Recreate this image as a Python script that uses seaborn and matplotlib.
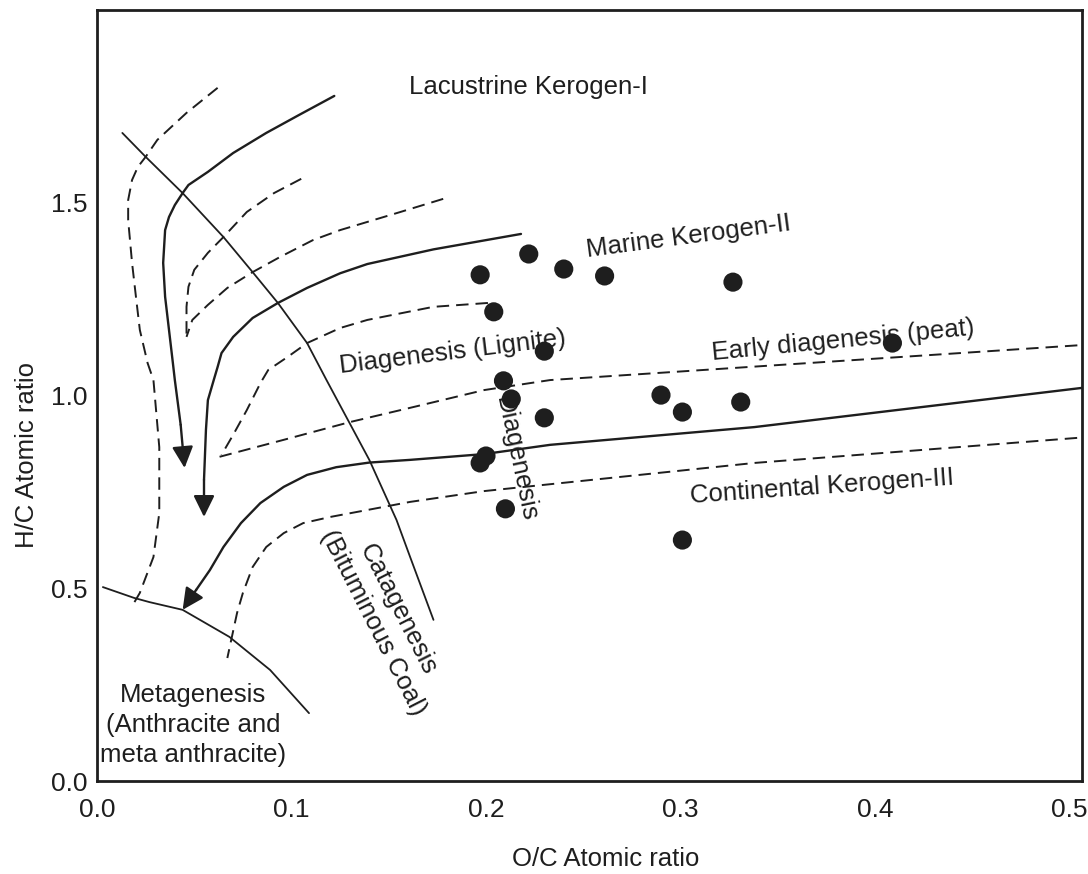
import matplotlib
matplotlib.use("Agg")
import matplotlib.pyplot as plt
import seaborn as sns

# ---- sample points (O/C, H/C atomic ratios) ----
oc_ratio = [0.197, 0.222, 0.240, 0.261, 0.327, 0.204, 0.230, 0.409, 0.209,
            0.213, 0.290, 0.301, 0.331, 0.230, 0.200, 0.197, 0.210, 0.301]
hc_ratio = [1.313, 1.367, 1.328, 1.310, 1.294, 1.217, 1.115, 1.136, 1.038,
            0.991, 1.001, 0.957, 0.983, 0.942, 0.843, 0.825, 0.706, 0.625]

# ---- maturation zone boundaries ----
cat_x = [0.013, 0.025, 0.044, 0.065, 0.080, 0.093, 0.108, 0.118, 0.140, 0.154, 0.161, 0.173]
cat_y = [1.681, 1.619, 1.525, 1.411, 1.320, 1.240, 1.136, 1.040, 0.833, 0.677, 0.581, 0.418]

meta_x = [0.003, 0.019, 0.027, 0.044, 0.068, 0.089, 0.109]
meta_y = [0.503, 0.475, 0.464, 0.444, 0.374, 0.288, 0.176]

# ---- kerogen evolution paths (solid, arrowhead at the last point) ----
k1_x = [0.122, 0.104, 0.087, 0.070, 0.057, 0.047, 0.044, 0.040, 0.037, 0.035,
        0.034, 0.035, 0.037, 0.039, 0.040, 0.043, 0.045]
k1_y = [1.777, 1.728, 1.681, 1.629, 1.580, 1.546, 1.525, 1.494, 1.463, 1.429,
        1.344, 1.256, 1.170, 1.084, 1.040, 0.924, 0.812]

k2_x = [0.218, 0.173, 0.139, 0.125, 0.108, 0.093, 0.080, 0.070, 0.064, 0.062,
        0.060, 0.057, 0.056, 0.055, 0.055]
k2_y = [1.419, 1.379, 1.341, 1.317, 1.279, 1.240, 1.201, 1.152, 1.110, 1.074,
        1.040, 0.988, 0.911, 0.781, 0.685]

k3_x = [0.507, 0.338, 0.233, 0.199, 0.161, 0.140, 0.123, 0.108, 0.096, 0.084,
        0.074, 0.065, 0.058, 0.051, 0.044]
k3_y = [1.020, 0.918, 0.872, 0.848, 0.833, 0.826, 0.814, 0.794, 0.763, 0.721,
        0.669, 0.607, 0.547, 0.496, 0.444]

# ---- dashed envelope lines ----
d1_outer_x = [0.062, 0.046, 0.031, 0.025, 0.021, 0.018, 0.016, 0.016, 0.018,
              0.020, 0.022, 0.026, 0.029, 0.032, 0.032, 0.029, 0.022, 0.019]
d1_outer_y = [1.798, 1.733, 1.663, 1.619, 1.593, 1.559, 1.507, 1.455, 1.344,
              1.256, 1.170, 1.084, 1.040, 0.866, 0.695, 0.581, 0.488, 0.462]

d1_inner_x = [0.105, 0.091, 0.077, 0.065, 0.057, 0.050, 0.047, 0.046, 0.046]
d1_inner_y = [1.562, 1.525, 1.476, 1.411, 1.370, 1.326, 1.282, 1.230, 1.152]

d2_upper_x = [0.178, 0.156, 0.125, 0.111, 0.094, 0.080, 0.067, 0.057, 0.049, 0.046]
d2_upper_y = [1.510, 1.476, 1.429, 1.403, 1.359, 1.320, 1.279, 1.235, 1.196, 1.152]

d2_lower_x = [0.201, 0.173, 0.139, 0.125, 0.108, 0.098, 0.088, 0.084, 0.077, 0.070, 0.064]
d2_lower_y = [1.240, 1.230, 1.196, 1.175, 1.136, 1.100, 1.066, 1.032, 0.962, 0.898, 0.846]

early_x = [0.063, 0.096, 0.130, 0.161, 0.199, 0.233, 0.507]
early_y = [0.841, 0.885, 0.931, 0.968, 1.014, 1.040, 1.131]

d3_x = [0.504, 0.338, 0.199, 0.161, 0.139, 0.120, 0.106, 0.096, 0.087, 0.080,
        0.075, 0.072, 0.069, 0.067]
d3_y = [0.890, 0.825, 0.752, 0.724, 0.703, 0.685, 0.669, 0.643, 0.607, 0.555,
        0.488, 0.436, 0.366, 0.319]

x_ticks = [0.0, 0.1, 0.2, 0.3, 0.4, 0.5]
y_ticks = [0.0, 0.5, 1.0, 1.5]

INK = "#1e1e1e"
FS = 18.5

sns.set_theme(style="white")
plt.rcParams["font.family"] = ["Liberation Sans", "DejaVu Sans"]
plt.rcParams["text.color"] = INK

fig = plt.figure(figsize=(10.88, 8.74), dpi=100)
ax = fig.add_axes([0.0892, 0.1064, 0.9053, 0.8822])

DASH = (0, (6.4, 3.6))

def curve(xs, ys, lw, ls="-"):
    sns.lineplot(x=xs, y=ys, sort=False, estimator=None, ax=ax,
                 color=INK, linewidth=lw, linestyle=ls, legend=False)

# zone boundaries
curve(cat_x, cat_y, 1.3)
curve(meta_x, meta_y, 1.3)

# dashed envelopes
for xs, ys in [(d1_outer_x, d1_outer_y), (d1_inner_x, d1_inner_y),
               (d2_upper_x, d2_upper_y), (d2_lower_x, d2_lower_y),
               (early_x, early_y), (d3_x, d3_y)]:
    curve(xs, ys, 1.4, DASH)

# evolution paths with arrowheads
for xs, ys in [(k1_x, k1_y), (k2_x, k2_y), (k3_x, k3_y)]:
    curve(xs[:-1], ys[:-1], 1.7)
    ax.annotate("", xy=(xs[-1], ys[-1]), xytext=(xs[-2], ys[-2]),
                arrowprops=dict(arrowstyle="-|>,head_length=0.65,head_width=0.32",
                                mutation_scale=20, color=INK, lw=1.7,
                                shrinkA=0, shrinkB=0))

# samples
sns.scatterplot(x=oc_ratio, y=hc_ratio, ax=ax, s=190, color=INK,
                edgecolor="none", zorder=5, legend=False)

# zone / kerogen labels
def label(x, y, s, rot=0, **kw):
    ax.text(x, y, s, fontsize=FS, rotation=rot, rotation_mode="anchor",
            ha="center", va="center", color=INK, **kw)

label(0.2216, 1.800, "Lacustrine Kerogen-I")
label(0.3044, 1.413, "Marine Kerogen-II", 7.5)
label(0.1830, 1.113, "Diagenesis (Lignite)", 7)
label(0.3835, 1.144, "Early diagenesis (peat)", 5.5)
label(0.3728, 0.763, "Continental Kerogen-III", 4)
label(0.2154, 0.835, "Diagenesis", -78)
label(0.1486, 0.428, "Catagenesis\n(Bituminous Coal)", -63, multialignment="center")
label(0.0494, 0.145, "Metagenesis\n(Anthracite and\nmeta anthracite)", 0,
      multialignment="center", linespacing=1.3)

# axes
ax.set_xlim(0, 0.5065)
ax.set_ylim(0, 2.0)
ax.set_xticks(x_ticks)
ax.set_yticks(y_ticks)
ax.set_xticklabels([f"{v:.1f}" for v in x_ticks])
ax.set_yticklabels([f"{v:.1f}" for v in y_ticks])
ax.tick_params(axis="both", length=0, labelsize=19, colors=INK)
ax.tick_params(axis="x", pad=12)
ax.tick_params(axis="y", pad=7)

for sp in ax.spines.values():
    sp.set_visible(True)
    sp.set_color(INK)
    sp.set_linewidth(2.0)

ax.set_xlabel("O/C Atomic ratio", fontsize=FS, color=INK)
ax.set_ylabel("H/C Atomic ratio", fontsize=FS, color=INK)
ax.xaxis.set_label_coords(0.516, -0.086)
ax.yaxis.set_label_coords(-0.059, 0.423)

fig.savefig("out.png", dpi=100, facecolor="white")
